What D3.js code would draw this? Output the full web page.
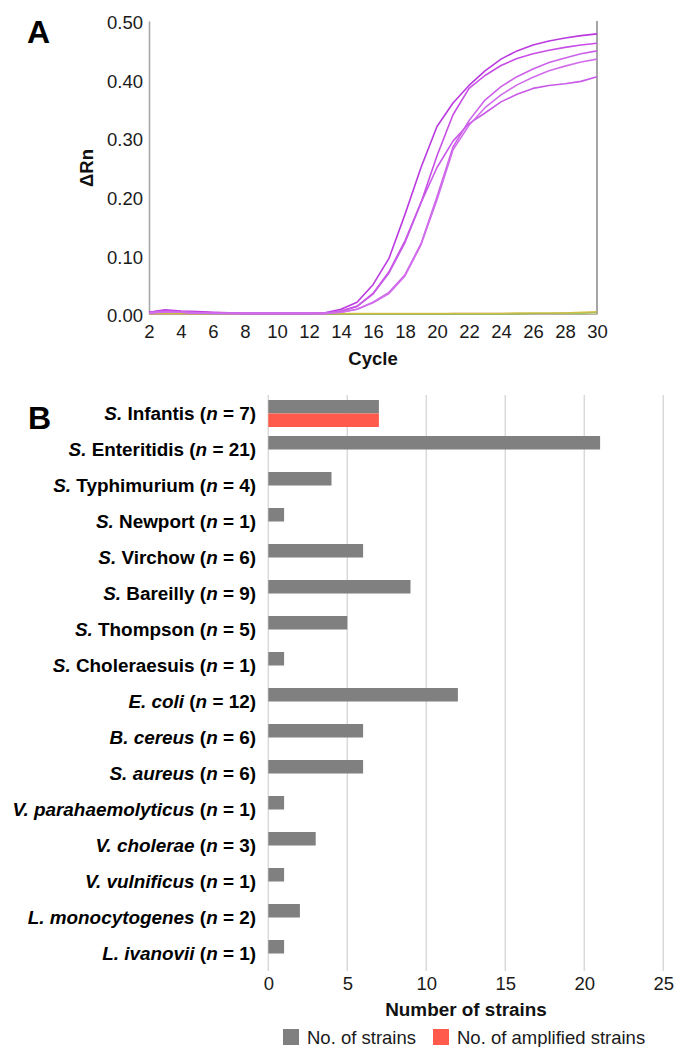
<!DOCTYPE html>
<html>
<head>
<meta charset="utf-8">
<script src="https://cdn.jsdelivr.net/npm/d3@7/dist/d3.min.js"></script>
<style>
  html, body { margin: 0; padding: 0; background: #fff; }
  svg { display: block; }
  text { font-family: "Liberation Sans", Arial, Helvetica, sans-serif; }
</style>
</head>
<body>
<svg id="chart" width="674" height="1047"></svg>
<script>
// ---------------- Panel A data ----------------
const cycles = [2,3,4,5,6,7,8,9,10,11,12,13,14,15,16,17,18,19,20,21,22,23,24,25,26,27,28,29,30];
const cycleTicks = [2,4,6,8,10,12,14,16,18,20,22,24,26,28,30];
const deltaRnTicks = [0, 0.1, 0.2, 0.3, 0.4, 0.5];

const curve1 = [0.003,0.007,0.005,0.004,0.003,0.002,0.001,0.001,0.001,0.001,0.001,0.002,0.008,0.020,0.050,0.095,0.170,0.250,0.320,0.360,0.390,0.415,0.435,0.449,0.459,0.466,0.471,0.475,0.478];
const curve2 = [0.003,0.006,0.004,0.003,0.002,0.002,0.001,0.001,0.001,0.001,0.001,0.001,0.005,0.013,0.035,0.072,0.125,0.190,0.270,0.340,0.385,0.407,0.424,0.436,0.444,0.450,0.455,0.459,0.462];
const curve3 = [0.002,0.004,0.003,0.002,0.002,0.001,0.001,0.001,0.001,0.001,0.001,0.001,0.005,0.013,0.034,0.070,0.122,0.190,0.250,0.295,0.325,0.343,0.362,0.375,0.385,0.390,0.393,0.397,0.405];
const curve4 = [0.002,0.004,0.003,0.002,0.001,0.001,0.001,0.001,0.001,0.001,0.001,0.001,0.003,0.008,0.020,0.037,0.067,0.120,0.200,0.285,0.330,0.365,0.388,0.405,0.418,0.429,0.437,0.444,0.449];
const curve5 = [0.002,0.003,0.003,0.002,0.001,0.001,0.001,0.001,0.001,0.001,0.001,0.001,0.003,0.008,0.019,0.035,0.065,0.118,0.195,0.280,0.322,0.352,0.374,0.391,0.404,0.415,0.423,0.430,0.435];
const negCtrl1 = [0.001,0.001,0.001,0.001,0.001,0.001,0.001,0.001,0.001,0.001,0.001,0.001,0.001,0.001,0.001,0.001,0.001,0.001,0.001,0.001,0.001,0.001,0.001,0.002,0.002,0.002,0.002,0.003,0.004];
const negCtrl2 = [0.000,0.000,0.000,0.000,0.000,0.000,0.000,0.000,0.000,0.000,0.000,0.000,0.000,0.000,0.000,0.000,0.000,0.000,0.000,0.001,0.001,0.001,0.001,0.001,0.001,0.001,0.002,0.002,0.003];
const negCtrl3 = [0.001,0.001,0.001,0.001,0.000,0.000,0.000,0.000,0.000,0.000,0.000,0.000,0.000,0.000,0.000,0.000,0.000,0.000,0.000,0.000,0.000,0.000,0.000,0.000,0.001,0.001,0.001,0.001,0.002];

const ampSeries = [curve1, curve2, curve3, curve4, curve5];
const ampColors = ["#bb3ae0", "#c84ee6", "#c95ae8", "#cd62ea", "#d26eec"];
const negSeries = [negCtrl2, negCtrl3, negCtrl1];
const negColors = ["#d09a6a", "#8fbf50", "#d4c040"];

// ---------------- Panel B data ----------------
const genusAbbr = ["S.","S.","S.","S.","S.","S.","S.","S.","E.","B.","S.","V.","V.","V.","L.","L."];
const speciesName = ["Infantis","Enteritidis","Typhimurium","Newport","Virchow","Bareilly","Thompson","Choleraesuis","coli","cereus","aureus","parahaemolyticus","cholerae","vulnificus","monocytogenes","ivanovii"];
const speciesItalic = [false,false,false,false,false,false,false,false,true,true,true,true,true,true,true,true];
const totalStrains = [7,21,4,1,6,9,5,1,12,6,6,1,3,1,2,1];
const amplifiedStrains = [7,0,0,0,0,0,0,0,0,0,0,0,0,0,0,0];
const strainTicks = [0,5,10,15,20,25];
const seriesNames = ["No. of strains", "No. of amplified strains"];
const seriesColors = ["#808080", "#ff5a4b"];

const FS = 18.5;
const FSL = 18.9;
const svg = d3.select("#chart");

// =============== Panel A ===============
const xA = d3.scaleLinear().domain([2, 30]).range([149, 597]);
const yA = d3.scaleLinear().domain([0, 0.5]).range([314, 21]);

const gA = svg.append("g");

const yAxisA = gA.append("g")
  .attr("transform", `translate(${xA(2)},0)`)
  .call(d3.axisLeft(yA).tickValues(deltaRnTicks).tickFormat(d3.format(".2f")).tickSize(0).tickSizeOuter(0).tickPadding(6));
yAxisA.select(".domain").attr("stroke", "#a8a8a8").attr("stroke-width", 1.6);
yAxisA.selectAll("text").attr("font-size", FS).attr("fill", "#1a1a1a").attr("dy", "0.42em");

gA.append("line")
  .attr("x1", xA(30)).attr("x2", xA(30))
  .attr("y1", yA(0.5)).attr("y2", yA(0))
  .attr("stroke", "#6a6a6a").attr("stroke-width", 1.2);

const xAxisA = gA.append("g")
  .attr("transform", `translate(0,${yA(0)})`)
  .call(d3.axisBottom(xA).tickValues(cycleTicks).tickFormat(d3.format("d")).tickSize(0).tickSizeOuter(0).tickPadding(11));
xAxisA.select(".domain").attr("stroke", "#b8b0a0").attr("stroke-width", 1.2);
xAxisA.selectAll("text").attr("font-size", FS).attr("fill", "#1a1a1a");

const lineA = d3.line().x((d, i) => xA(cycles[i])).y(d => yA(d));

negSeries.forEach((s, k) => {
  gA.append("path").attr("d", lineA(s)).attr("fill", "none")
    .attr("stroke", negColors[k]).attr("stroke-width", 1.4).attr("opacity", 0.85);
});
ampSeries.forEach((s, k) => {
  gA.append("path").attr("d", lineA(s)).attr("fill", "none")
    .attr("stroke", ampColors[k]).attr("stroke-width", 1.6).attr("stroke-linejoin", "round");
});

gA.append("text").attr("x", 373).attr("y", 364.5).attr("text-anchor", "middle")
  .attr("font-size", FS).attr("font-weight", "bold").attr("fill", "#111").text("Cycle");
gA.append("text").attr("transform", "translate(92.5,168) rotate(-90)").attr("text-anchor", "middle")
  .attr("font-size", FS).attr("font-weight", "bold").attr("fill", "#111").text("ΔRn");
gA.append("text").attr("x", 27).attr("y", 43).attr("font-size", 32).attr("font-weight", "bold").attr("fill", "#000").text("A");

// =============== Panel B ===============
const xB = d3.scaleLinear().domain([0, 25]).range([268.3, 663.3]);
const yB = d3.scaleBand().domain(speciesName).range([395.5, 971.5]).paddingInner(0.25).paddingOuter(0.125);
const ySub = d3.scaleBand().domain(seriesNames).range([0, yB.bandwidth()]);

const gB = svg.append("g");

gB.append("g").selectAll("line").data(strainTicks).join("line")
  .attr("x1", d => xB(d)).attr("x2", d => xB(d))
  .attr("y1", 395).attr("y2", 971)
  .attr("stroke", "#d9d9d9").attr("stroke-width", 1.5);

const xAxisB = gB.append("g")
  .attr("transform", "translate(0,971)")
  .call(d3.axisBottom(xB).tickValues(strainTicks).tickFormat(d3.format("d")).tickSize(0).tickSizeOuter(0).tickPadding(5.5));
xAxisB.select(".domain").remove();
xAxisB.selectAll("text").attr("font-size", FS).attr("fill", "#1a1a1a");

const rows = speciesName.map((n, i) => ({ name: n, values: [totalStrains[i], amplifiedStrains[i]] }));
const rowG = gB.append("g").selectAll("g").data(rows).join("g")
  .attr("transform", d => `translate(0,${yB(d.name)})`);
rowG.selectAll("rect").data(d => d.values.map((v, j) => ({ v, s: seriesNames[j], c: seriesColors[j] })).filter(e => e.v > 0))
  .join("rect")
  .attr("x", xB(0))
  .attr("y", e => ySub(e.s))
  .attr("width", e => xB(e.v) - xB(0))
  .attr("height", ySub.bandwidth())
  .attr("fill", e => e.c);

const labels = gB.append("g").selectAll("text").data(speciesName).join("text")
  .attr("x", 256).attr("y", d => yB(d) + yB.bandwidth() / 2)
  .attr("dy", "0.36em")
  .attr("text-anchor", "end")
  .attr("font-size", FSL).attr("font-weight", "bold").attr("fill", "#000");
labels.each(function(d, i) {
  const t = d3.select(this);
  t.append("tspan").attr("font-style", "italic").text(genusAbbr[i] + " ");
  t.append("tspan").attr("font-style", speciesItalic[i] ? "italic" : "normal").text(speciesName[i]);
  t.append("tspan").text(" (");
  t.append("tspan").attr("font-style", "italic").text("n");
  t.append("tspan").text(" = " + totalStrains[i] + ")");
});

gB.append("text").attr("x", 466).attr("y", 1015.5).attr("text-anchor", "middle")
  .attr("font-size", FSL).attr("font-weight", "bold").attr("fill", "#111").text("Number of strains");
gB.append("text").attr("x", 28).attr("y", 429).attr("font-size", 32).attr("font-weight", "bold").attr("fill", "#000").text("B");

const legendX = [283, 433];
const leg = gB.append("g").selectAll("g").data(seriesNames).join("g")
  .attr("transform", (d, i) => `translate(${legendX[i]},1029)`);
leg.append("rect").attr("width", 16).attr("height", 16).attr("fill", (d, i) => seriesColors[i]);
leg.append("text").attr("x", 24).attr("y", 14.6).attr("font-size", FS).attr("fill", "#1a1a1a").text(d => d);
</script>
</body>
</html>
